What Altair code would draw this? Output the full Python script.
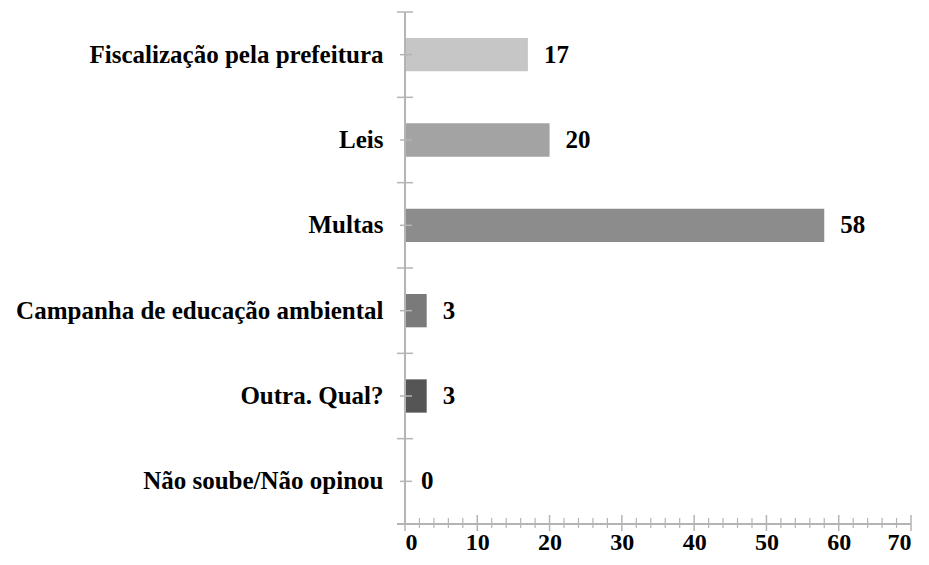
import altair as alt
import pandas as pd

categories = [
    "Fiscalização pela prefeitura",
    "Leis",
    "Multas",
    "Campanha de educação ambiental",
    "Outra. Qual?",
    "Não soube/Não opinou",
]
values = [17, 20, 58, 3, 3, 0]
bar_colors = ["#c6c6c6", "#a3a3a3", "#8c8c8c", "#7a7a7a", "#555555", "#3a3a3a"]
x_tick_labels = [0, 10, 20, 30, 40, 50, 60, 70]
x_minor_ticks = [v for v in range(0, 71, 2) if v % 10 != 0]

W, H = 506, 512
FONT = "Liberation Serif"
AXIS_GRAY = "#b4b4b4"

df = pd.DataFrame({"cat": categories, "val": values, "color": bar_colors})
major_df = pd.DataFrame({"val": x_tick_labels})
minor_df = pd.DataFrame({"val": x_minor_ticks})
one = pd.DataFrame({"a": [0]})

yscale = alt.Scale(domain=categories, paddingInner=0.61, paddingOuter=0.305)
xscale = alt.Scale(domain=[0, 70], nice=False)

y_axis = alt.Axis(
    title=None, ticks=False, tickSize=0, domain=False,
    labelPadding=22, labelFont=FONT, labelFontWeight="bold", labelFontSize=25,
    labelColor="black", labelLimit=0,
)
x_axis = alt.Axis(
    title=None, values=x_tick_labels, ticks=False, tickSize=0, domain=False,
    grid=False, labelPadding=6, labelFont=FONT, labelFontWeight="bold",
    labelFontSize=24, labelColor="black", labelBaseline="top",
)

Y = alt.Y("cat:N", scale=yscale, sort=categories, axis=y_axis)
X = alt.X("val:Q", scale=xscale, axis=x_axis)

bars = alt.Chart(df).mark_bar().encode(
    y=Y, x=X, color=alt.Color("color:N", scale=None),
)

labels = alt.Chart(df).mark_text(
    align="left", baseline="middle", dx=16, font=FONT, fontWeight="bold",
    fontSize=25, color="black",
).encode(y=Y, x=X, text="val:Q")

center_ticks = alt.Chart(df).mark_rule(color=AXIS_GRAY, strokeWidth=1.5).encode(
    y=Y, x=alt.value(-5), x2=alt.value(7)
)

y_line = alt.Chart(one).mark_rule(color=AXIS_GRAY, strokeWidth=2).encode(
    x=alt.value(0), y=alt.value(0), y2=alt.value(H)
)
x_line = alt.Chart(one).mark_rule(color=AXIS_GRAY, strokeWidth=2).encode(
    x=alt.value(-8), x2=alt.value(W), y=alt.value(H)
)

major_ticks = alt.Chart(major_df).mark_rule(color=AXIS_GRAY, strokeWidth=1.5).encode(
    x=X, y=alt.value(H - 9), y2=alt.value(H + 7)
)
minor_ticks = alt.Chart(minor_df).mark_rule(color=AXIS_GRAY, strokeWidth=1.2).encode(
    x=X, y=alt.value(H - 6), y2=alt.value(H + 4)
)

main = alt.layer(bars, center_ticks, y_line, x_line, major_ticks, minor_ticks, labels)

boundary_ticks = alt.Chart(df).mark_rule(color=AXIS_GRAY, strokeWidth=1.5).encode(
    y=alt.Y(
        "cat:N", sort=categories, bandPosition=0, axis=None,
        scale=alt.Scale(domain=categories, paddingInner=0, paddingOuter=0),
    ),
    x=alt.value(-8), x2=alt.value(8),
)

chart = alt.layer(main, boundary_ticks).resolve_scale(y="independent").properties(
    width=W, height=H,
    autosize=alt.AutoSizeParams(type="none"),
    padding={"left": 397, "top": 4, "right": 10, "bottom": 33},
    background="white",
).configure_view(stroke=None)

chart.save("out.html", embed_options={"renderer": "svg", "actions": False})
